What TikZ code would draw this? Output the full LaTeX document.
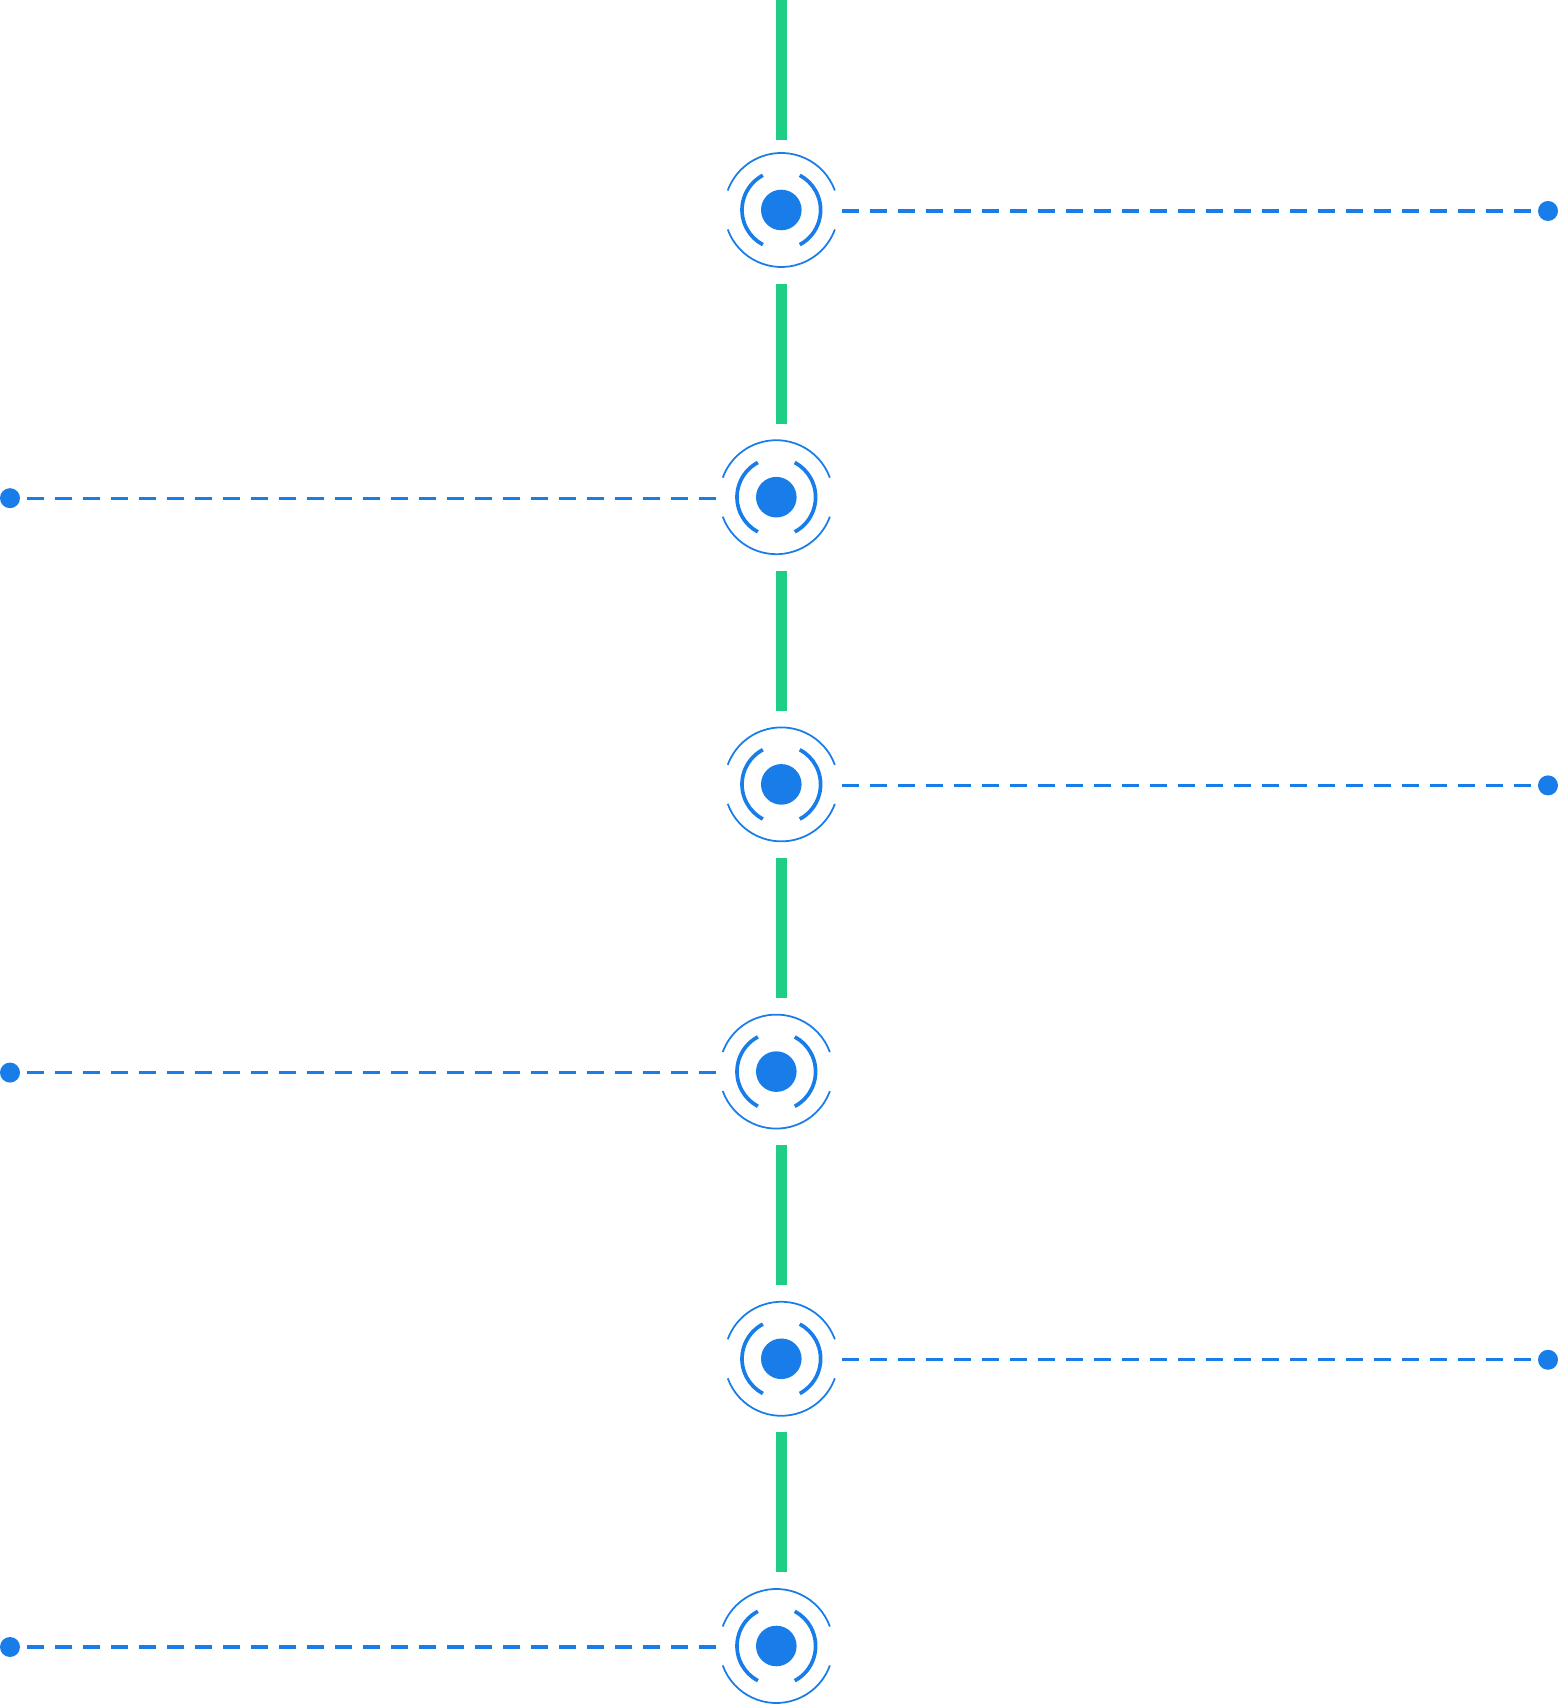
\documentclass[tikz,border=0pt]{standalone}
\usepackage{tikz}
\usepackage{tkz-euclide}
\definecolor{pinblue}{RGB}{24,125,233}
\definecolor{railgreen}{RGB}{30,206,132}

\begin{document}
\begin{tikzpicture}[%
  rail/.style = {railgreen, line width=3.4pt, line cap=butt},
  lead/.style = {pinblue, line width=0.9pt, line cap=butt,
                 dash pattern=on 4.84pt off 3.13pt},
  ringin/.style = {pinblue, line width=1.05pt},
  ringout/.style = {pinblue, line width=0.5pt},
]
  \useasboundingbox (0,0) rectangle (15.58,17.06);

  % targets on the rail
  \tkzDefPoint(7.813,14.960){T1}
  \tkzDefPoint(7.763,12.088){T2}
  \tkzDefPoint(7.813,9.216){T3}
  \tkzDefPoint(7.763,6.344){T4}
  \tkzDefPoint(7.813,3.472){T5}
  \tkzDefPoint(7.763,0.600){T6}

  % rail pieces
  \tkzDefPoint(7.815,17.060){G0}
  \tkzDefPoint(7.815,15.660){G1}
  \tkzDefPoint(7.815,14.224){G2}
  \tkzDefPoint(7.815,12.824){G3}
  \tkzDefPoint(7.815,11.352){G4}
  \tkzDefPoint(7.815,9.952){G5}
  \tkzDefPoint(7.815,8.480){G6}
  \tkzDefPoint(7.815,7.080){G7}
  \tkzDefPoint(7.815,5.608){G8}
  \tkzDefPoint(7.815,4.208){G9}
  \tkzDefPoint(7.815,2.736){G10}
  \tkzDefPoint(7.815,1.336){G11}

  % leads and their end dots
  \tkzDefPoint(8.417,14.950){P1}
  \tkzDefPoint(15.307,14.950){Q1}
  \tkzDefPoint(15.480,14.950){D1}

  \tkzDefPoint(7.160,12.078){P2}
  \tkzDefPoint(0.273,12.078){Q2}
  \tkzDefPoint(0.100,12.078){D2}

  \tkzDefPoint(8.417,9.206){P3}
  \tkzDefPoint(15.307,9.206){Q3}
  \tkzDefPoint(15.480,9.206){D3}

  \tkzDefPoint(7.160,6.334){P4}
  \tkzDefPoint(0.273,6.334){Q4}
  \tkzDefPoint(0.100,6.334){D4}

  \tkzDefPoint(8.417,3.462){P5}
  \tkzDefPoint(15.307,3.462){Q5}
  \tkzDefPoint(15.480,3.462){D5}

  \tkzDefPoint(7.160,0.590){P6}
  \tkzDefPoint(0.273,0.590){Q6}
  \tkzDefPoint(0.100,0.590){D6}

  \foreach \a/\b in {G0/G1,G2/G3,G4/G5,G6/G7,G8/G9,G10/G11}
    \draw[rail] (\a) -- (\b);
  \foreach \a/\b in {P1/Q1,P2/Q2,P3/Q3,P4/Q4,P5/Q5,P6/Q6}
    \draw[lead] (\a) -- (\b);

  \foreach \t in {T1,T2,T3,T4,T5,T6}
  {
    \fill[pinblue] (\t) circle (0.203);
    \draw[ringin] ([shift={(-62:0.393)}]\t) arc (-62:62:0.393);
    \draw[ringin] ([shift={(118:0.393)}]\t) arc (118:242:0.393);
    \draw[ringout] ([shift={(20:0.57)}]\t) arc (20:160:0.57);
    \draw[ringout] ([shift={(200:0.57)}]\t) arc (200:340:0.57);
  }

  \foreach \d in {D1,D2,D3,D4,D5,D6}
    \fill[pinblue] (\d) circle (0.10);

\end{tikzpicture}
\end{document}
